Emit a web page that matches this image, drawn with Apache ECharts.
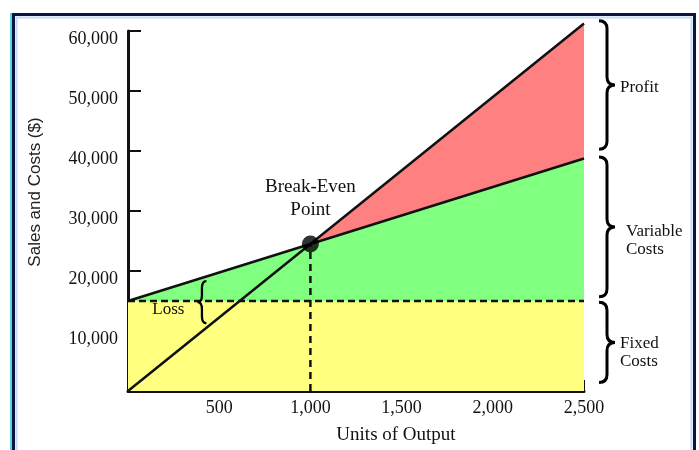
<!DOCTYPE html>
<html><head><meta charset="utf-8">
<script src="https://cdn.jsdelivr.net/npm/echarts@6/dist/echarts.min.js"></script>
<style>html,body{margin:0;padding:0;background:#fff}#c{width:699px;height:450px}</style>
</head><body><div id="c"></div>
<script>
// ---- data ----
const units     = [0, 1000, 2500];
const sales     = [0, 24500, 61250];
const totalCost = [15000, 24500, 38750];
const fixedCost = [15000, 15000, 15000];
const breakEvenPoint = [1000, 24500];
const xTicks = [500, 1000, 1500, 2000, 2500];
const yTicks = [10000, 20000, 30000, 40000, 50000, 60000];
// braces on the right: [low, high] in $
const braceRanges = [[40300, 61700], [15700, 39000], [1400, 14800]];
const braceTexts  = ['Profit', 'Variable\nCosts', 'Fixed\nCosts'];
const braceTextY  = [50500, 25000, 6400];
// loss brace: [units, low, high]
const lossBrace = [430, 11300, 18300];
const lossText = 'Loss';
const breakEvenText = 'Break-Even\nPoint';
const breakEvenTextY = 32000;

const SERIF = '"Liberation Serif","Times New Roman",serif';
const last = units.length - 1;
const pts = (xs, ys) => xs.map((x, i) => [x, ys[i]]);

const fixedPoly = [[units[0], 0], [units[last], 0], [units[last], fixedCost[last]], [units[0], fixedCost[0]]];
const varPoly = pts(units, fixedCost).concat(pts(units, totalCost).reverse());
const beIdx = units.indexOf(breakEvenPoint[0]);
const profitPoly = pts(units.slice(beIdx), sales.slice(beIdx)).concat(pts(units.slice(beIdx), totalCost.slice(beIdx)).reverse());

function polySeries(poly, color) {
  return {
    type: 'custom', silent: true, z: 1, clip: false, data: [0],
    renderItem: (p, api) => ({
      type: 'polygon',
      shape: { points: poly.map(q => api.coord(q)) },
      style: { fill: color, stroke: null }
    })
  };
}

function bracePath(x0, t, b, w, dir) {
  // dir = 1: tip pointing right, -1: tip pointing left
  const m = (t + b) / 2, r = Math.min(8, (b - t) / 6);
  const xm = x0 + dir * w / 2, xt = x0 + dir * w;
  return `M${x0},${t} Q${xm},${t} ${xm},${t + r} L${xm},${m - r} Q${xm},${m} ${xt},${m} ` +
         `Q${xm},${m} ${xm},${m + r} L${xm},${b - r} Q${xm},${b} ${x0},${b}`;
}

const chart = echarts.init(document.getElementById('c'));
const option = {
  animation: false,
  backgroundColor: '#ffffff',
  grid: { left: 128, right: 115, top: 31, bottom: 59 },
  graphic: [
    { type: 'line', shape: { x1: 11, y1: 13, x2: 11, y2: 450 }, style: { stroke: '#55d8e8', lineWidth: 2 }, z: -1 },
    { type: 'rect', shape: { x: 13.5, y: 14.5, width: 681, height: 460 }, style: { fill: null, stroke: '#0b1540', lineWidth: 3 }, z: -1 },
    { type: 'rect', shape: { x: 16.5, y: 17.5, width: 675, height: 460 }, style: { fill: null, stroke: '#c4dcf6', lineWidth: 2 }, z: -1 }
  ],
  xAxis: {
    type: 'value', min: 0, max: 2500, interval: 500,
    name: 'Units of Output', nameLocation: 'middle', nameGap: 35,
    nameTextStyle: { fontFamily: SERIF, fontSize: 19, color: '#111', padding: [0, 0, 0, 80] },
    axisLine: { lineStyle: { color: '#111', width: 3 } },
    axisTick: { inside: true, length: 11, lineStyle: { color: '#111', width: 2 } },
    axisLabel: { fontFamily: SERIF, fontSize: 18, color: '#111', margin: 8,
      formatter: v => xTicks.indexOf(v) >= 0 ? v.toLocaleString('en-US') : '' },
    splitLine: { show: false }
  },
  yAxis: {
    type: 'value', min: 0, max: 60000, interval: 10000,
    name: 'Sales and Costs ($)', nameLocation: 'middle', nameGap: 84, nameRotate: 90,
    nameTextStyle: { fontFamily: '"Liberation Sans",Arial,sans-serif', fontSize: 17, color: '#222', padding: [0, 0, 0, 38] },
    axisLine: { show: true, lineStyle: { color: '#111', width: 3 } },
    axisTick: { show: true, inside: true, length: 13, lineStyle: { color: '#111', width: 2 } },
    axisLabel: { fontFamily: SERIF, fontSize: 18, color: '#111', margin: 10, verticalAlign: 'top', lineHeight: 16,
      formatter: v => yTicks.indexOf(v) >= 0 ? v.toLocaleString('en-US') : '' },
    splitLine: { show: false }
  },
  series: [
    polySeries(fixedPoly, '#ffff80'),
    polySeries(varPoly, '#80ff80'),
    polySeries(profitPoly, '#ff8080'),
    { type: 'line', data: pts(units, fixedCost), symbol: 'none', clip: false, z: 4,
      lineStyle: { color: '#111', width: 2.5, type: [7, 4] } },
    { type: 'line', data: [[breakEvenPoint[0], 0], breakEvenPoint], symbol: 'none', clip: false, z: 4,
      lineStyle: { color: '#111', width: 2.5, type: [7, 5] } },
    { type: 'line', data: pts(units, totalCost), symbol: 'none', clip: false, z: 5,
      lineStyle: { color: '#111', width: 2.5 } },
    { type: 'line', data: pts(units, sales), symbol: 'none', clip: false, z: 5,
      lineStyle: { color: '#111', width: 2.5 } },
    { type: 'scatter', data: [breakEvenPoint], symbolSize: 17, itemStyle: { color: '#000' }, z: 6 },
    // right braces + texts
    { type: 'custom', silent: true, z: 6, clip: false,
      data: braceRanges.map((r, i) => [units[last], r[0], r[1], i]),
      renderItem: (p, api) => {
        const lo = api.coord([api.value(0), api.value(1)]);
        const hi = api.coord([api.value(0), api.value(2)]);
        const i = api.value(3);
        const ty = api.coord([api.value(0), braceTextY[i]])[1];
        const x0 = lo[0] + 15;
        return { type: 'group', children: [
          { type: 'path', shape: { pathData: bracePath(x0, hi[1], lo[1], 16, 1) },
            style: { fill: null, stroke: '#000', lineWidth: 3 } },
          { type: 'text', x: lo[0] + (i === 1 ? 42 : 36), y: ty,
            style: { text: braceTexts[i], font: '17px ' + SERIF, fill: '#111', align: 'left', verticalAlign: 'middle', lineHeight: 18 } }
        ]};
      }
    },
    // loss brace + text
    { type: 'custom', silent: true, z: 6, clip: false,
      data: [lossBrace],
      renderItem: (p, api) => {
        const lo = api.coord([api.value(0), api.value(1)]);
        const hi = api.coord([api.value(0), api.value(2)]);
        const fy = api.coord([0, fixedCost[0]])[1];
        return { type: 'group', children: [
          { type: 'path', shape: { pathData: bracePath(lo[0], hi[1], lo[1], 9, -1) },
            style: { fill: null, stroke: '#000', lineWidth: 2.3 } },
          { type: 'text', x: lo[0] - 38, y: fy + 9,
            style: { text: lossText, font: '17px ' + SERIF, fill: '#111', align: 'center', verticalAlign: 'middle' } }
        ]};
      }
    },
    // break-even label
    { type: 'custom', silent: true, z: 6, clip: false,
      data: [[breakEvenPoint[0], breakEvenTextY]],
      renderItem: (p, api) => {
        const c = api.coord([api.value(0), api.value(1)]);
        return { type: 'text', x: c[0], y: c[1],
          style: { text: breakEvenText, font: '19px ' + SERIF, fill: '#111', align: 'center', verticalAlign: 'middle', lineHeight: 23 } };
      }
    }
  ]
};
chart.setOption(option);
</script></body></html>
